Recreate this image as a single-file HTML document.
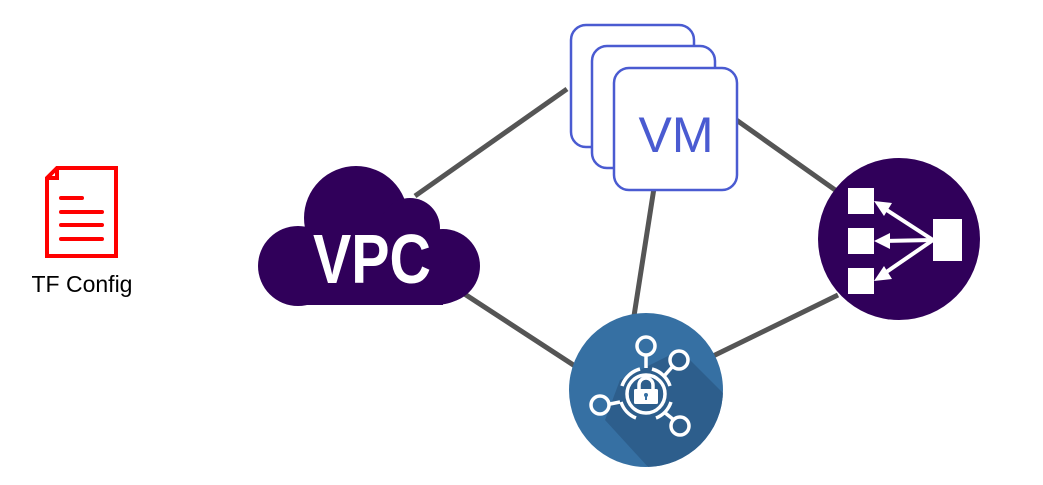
<!DOCTYPE html>
<html><head><style>
html,body{margin:0;padding:0;background:#fff;width:1043px;height:485px;overflow:hidden}
</style></head><body>
<svg width="1043" height="485" viewBox="0 0 1043 485" xmlns="http://www.w3.org/2000/svg">
<defs>
<clipPath id="sc"><circle cx="646" cy="390" r="77"/></clipPath>
</defs>
<!-- connectors -->
<g stroke="#555" stroke-width="5" stroke-linecap="butt">
<line x1="415" y1="196" x2="567" y2="89"/>
<line x1="735" y1="119" x2="838" y2="192"/>
<line x1="654" y1="188" x2="634" y2="316"/>
<line x1="463" y1="293" x2="578" y2="368"/>
<line x1="711" y1="357" x2="838" y2="295"/>
</g>
<!-- TF doc -->
<g fill="none" stroke="#ff0000" stroke-width="4">
<path d="M57 168 H116 V256 H47 V178 Z"/>
<path d="M47 178 H57 V168" />
</g>
<g stroke="#ff0000" stroke-width="4" stroke-linecap="round">
<line x1="61" y1="198" x2="82" y2="198"/>
<line x1="61" y1="212" x2="102" y2="212"/>
<line x1="61" y1="225" x2="102" y2="225"/>
<line x1="61" y1="239" x2="102" y2="239"/>
</g>
<text x="82" y="292" text-anchor="middle" font-family="Liberation Sans, sans-serif" font-size="23" fill="#000">TF Config</text>
<!-- Cloud -->
<g fill="#30005a">
<circle cx="356" cy="218" r="52"/>
<circle cx="410" cy="228" r="30"/>
<circle cx="298" cy="266" r="40"/>
<circle cx="443" cy="266" r="37"/>
<rect x="298" y="240" width="145" height="65"/>
<rect x="270" y="260" width="200" height="45" rx="35"/>
</g>
<text x="372" y="283" text-anchor="middle" font-family="Liberation Sans Narrow, Liberation Sans, sans-serif" font-weight="bold" font-size="70" fill="#fff" transform="translate(372 0) scale(0.82 1) translate(-372 0)">VPC</text>
<!-- VM -->
<g fill="#fff" stroke="#4a5bd1" stroke-width="2.5">
<rect x="571" y="25" width="123" height="122" rx="15"/>
<rect x="592" y="46" width="123" height="122" rx="15"/>
<rect x="614" y="68" width="123" height="122" rx="15"/>
</g>
<text x="676" y="152" text-anchor="middle" font-family="Liberation Sans, sans-serif" font-size="50" fill="#4a5bd1">VM</text>
<!-- LB -->
<circle cx="899" cy="239" r="81" fill="#30005a"/>
<g fill="#fff">
<rect x="848" y="188" width="26" height="26"/>
<rect x="848" y="228" width="26" height="26"/>
<rect x="848" y="268" width="26" height="26"/>
<rect x="933" y="219" width="29" height="42"/>
</g>
<g stroke="#fff" stroke-width="4">
<line x1="933" y1="240" x2="882" y2="207"/>
<line x1="933" y1="240" x2="882" y2="241"/>
<line x1="933" y1="240" x2="882" y2="275"/>
</g>
<g fill="#fff">
<polygon points="874,201 892,203 884,216"/>
<polygon points="874,241 890,233 890,249"/>
<polygon points="874,281 884,266 892,279"/>
</g>
<!-- Security -->
<circle cx="646" cy="390" r="77" fill="#3670a3"/>
<polygon clip-path="url(#sc)" points="680,350 740,410 740,480 660,480 605,420 620,380" fill="#2d5e8c"/>
<g fill="none" stroke="#fff" stroke-width="3.5">
<circle cx="646" cy="346" r="9"/>
<circle cx="679" cy="360" r="9"/>
<circle cx="600" cy="405" r="9"/>
<circle cx="680" cy="426" r="9"/>
<circle cx="646" cy="394" r="19"/>
<path d="M622 386 A26 26 0 0 1 640 369"/>
<path d="M652 369 A26 26 0 0 1 670 386"/>
<path d="M671 402 A26 26 0 0 1 656 418"/>
<path d="M636 418 A26 26 0 0 1 621 402"/>
<line x1="646" y1="355" x2="646" y2="368"/>
<line x1="610" y1="404" x2="620" y2="402"/>
<line x1="673" y1="366" x2="665" y2="375"/>
<line x1="674" y1="420" x2="664" y2="412"/>
<path d="M639 390 V385 A7 7 0 0 1 653 385 V390"/>
</g>
<rect x="634" y="389" width="24" height="15" rx="1.5" fill="#fff"/>
<circle cx="646" cy="395" r="2" fill="#3670a3"/>
<rect x="645" y="395" width="2" height="5" fill="#3670a3"/>
</svg>
</body></html>
